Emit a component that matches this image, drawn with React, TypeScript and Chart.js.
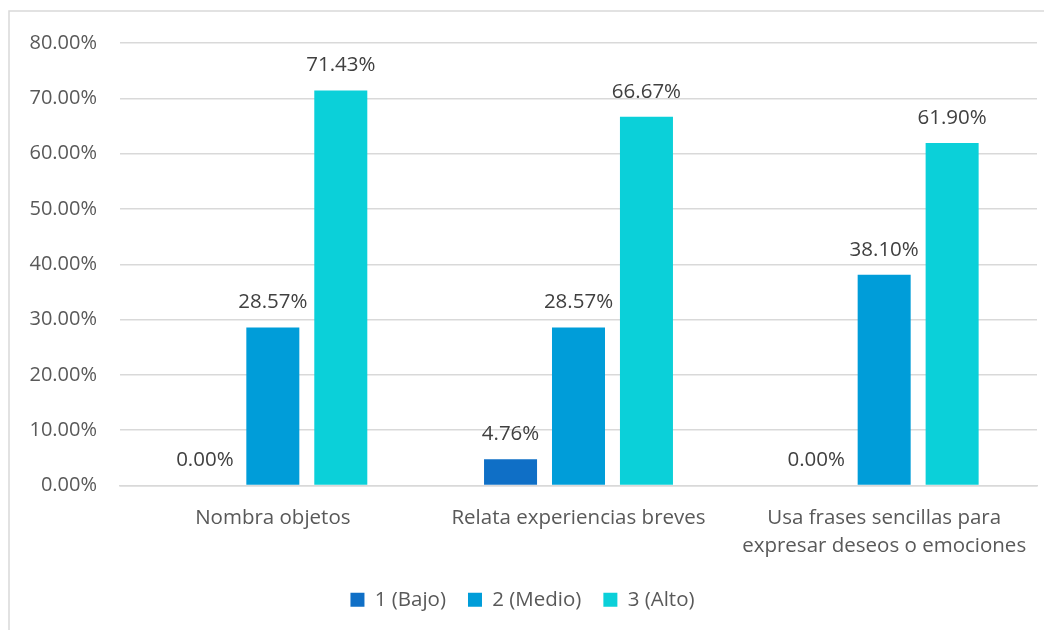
import React, { useEffect, useRef } from "react";
import { Chart, registerables } from "chart.js";

Chart.register(...registerables);

const categories: (string | string[])[] = [
  "Nombra objetos",
  "Relata experiencias breves",
  ["Usa frases sencillas para", "expresar deseos o emociones"],
];
const seriesNames = ["1 (Bajo)", "2 (Medio)", "3 (Alto)"];
const bajo = [0, 4.76, 0];
const medio = [28.57, 28.57, 38.1];
const alto = [71.43, 66.67, 61.9];
const colors = ["#0F6FC6", "#009DD9", "#0BD0D9"];
const yTicks = [0, 10, 20, 30, 40, 50, 60, 70, 80];

const FONT = "'Open Sans', sans-serif";

const frame = {
  id: "frame",
  beforeDraw(chart: any) {
    const { ctx } = chart;
    ctx.save();
    ctx.strokeStyle = "#D9D9D9";
    ctx.lineWidth = 1.5;
    ctx.beginPath();
    ctx.moveTo(1, chart.height);
    ctx.lineTo(1, 3);
    ctx.lineTo(chart.width, 3);
    ctx.stroke();
    ctx.restore();
  },
};

const dataLabels = {
  id: "dataLabels",
  afterDatasetsDraw(chart: any) {
    const { ctx } = chart;
    ctx.save();
    ctx.font = `20.5px ${FONT}`;
    ctx.fillStyle = "#404040";
    ctx.textAlign = "center";
    ctx.textBaseline = "middle";
    chart.data.datasets.forEach((ds: any, i: number) => {
      const meta = chart.getDatasetMeta(i);
      meta.data.forEach((bar: any, j: number) => {
        const v = ds.data[j];
        ctx.fillText(v.toFixed(2) + "%", bar.x, bar.y - 25);
      });
    });
    ctx.restore();
  },
};

export default function App() {
  const ref = useRef<HTMLCanvasElement>(null);
  useEffect(() => {
    const series = [bajo, medio, alto];
    const chart = new Chart(ref.current!, {
      type: "bar",
      data: {
        labels: categories,
        datasets: series.map((d, i) => ({
          label: seriesNames[i],
          data: d,
          backgroundColor: colors[i],
          barPercentage: 0.78,
          categoryPercentage: 0.667,
        })),
      },
      options: {
        animation: false,
        responsive: false,
        layout: { padding: { top: 30, right: 15, bottom: 10, left: 0 } },
        plugins: {
          legend: {
            position: "bottom",
            labels: {
              boxWidth: 14,
              boxHeight: 14,
              padding: 22,
              color: "#595959",
              font: { family: FONT, size: 20.5 },
            },
          },
          tooltip: { enabled: false },
        },
        scales: {
          x: {
            grid: { display: false },
            border: { color: "#D9D9D9", width: 1.5 },
            ticks: {
              color: "#595959",
              font: { family: FONT, size: 20.5, lineHeight: 1.37 },
              padding: 11,
              maxRotation: 0,
              autoSkip: false,
            },
            afterFit: (s: any) => {
              s.height = 82;
            },
          },
          y: {
            min: 0,
            max: 80,
            afterBuildTicks: (s: any) => {
              s.ticks = yTicks.map((v) => ({ value: v }));
            },
            grid: { color: "#D9D9D9", lineWidth: 1.5, drawTicks: false },
            border: { display: false },
            ticks: {
              color: "#595959",
              font: { family: FONT, size: 20 },
              padding: 23,
              callback: (v: any) => Number(v).toFixed(2) + "%",
            },
            afterFit: (s: any) => {
              s.width = 112;
            },
          },
        },
      },
      plugins: [frame, dataLabels],
    });
    return () => chart.destroy();
  }, []);
  return <canvas ref={ref} width={1044} height={622} style={{ display: "block" }} />;
}
